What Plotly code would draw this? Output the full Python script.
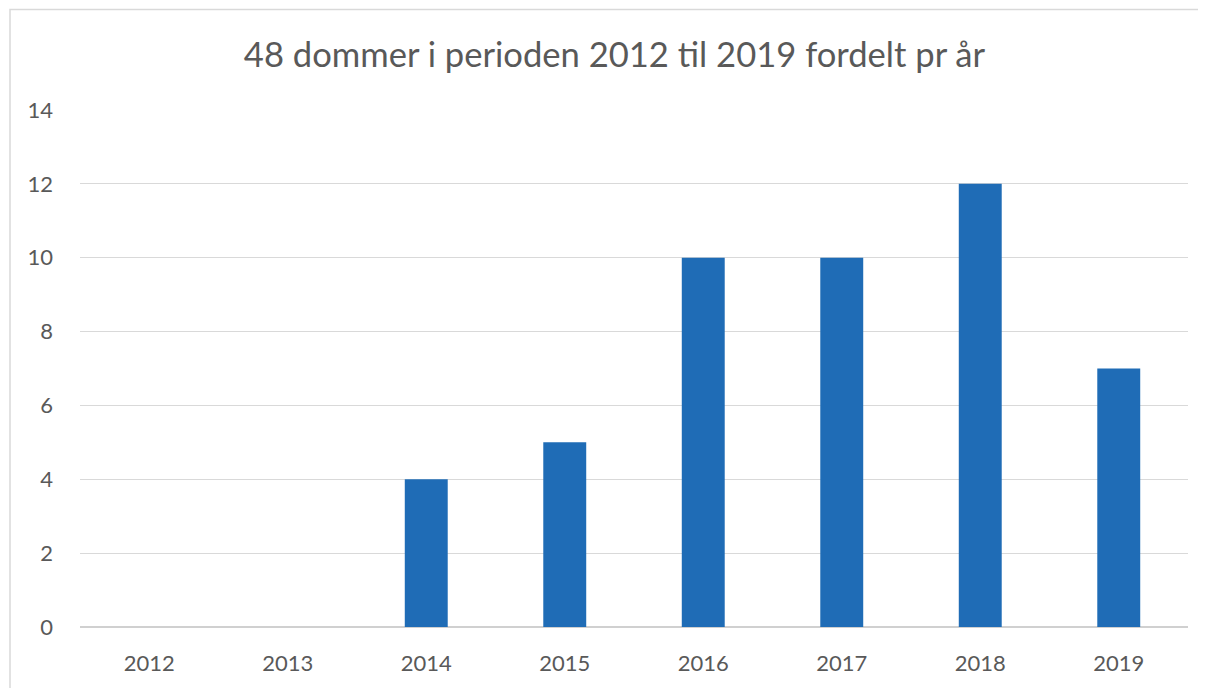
import plotly.graph_objects as go

years = ["2012", "2013", "2014", "2015", "2016", "2017", "2018", "2019"]
counts = [0, 0, 4, 5, 10, 10, 12, 7]
title_text = "48 dommer i perioden 2012 til 2019 fordelt pr år"

OFF = 8  # page body margin
W, H = 1206 - OFF, 688 - OFF
L, R, T, B = 80 - OFF, 18, 110 - OFF, 61
pw, ph = W - L - R, H - T - B

fig = go.Figure(go.Bar(x=years, y=counts, marker=dict(color="#1F6CB6", line=dict(width=0))))

fig.update_layout(
    width=W, height=H,
    margin=dict(l=L, r=R, t=T, b=B),
    paper_bgcolor="white", plot_bgcolor="white",
    font=dict(family="Lato, Noto Sans, sans-serif", color="#595959"),
    title=dict(text=title_text, x=(614.5 - OFF) / W, xanchor="center", xref="container",
               y=1 - (55 - OFF) / H, yanchor="middle", yref="container",
               font=dict(size=34.6, color="#595959")),
    bargap=0.69,
    showlegend=False,
    xaxis=dict(type="category", showgrid=False, zeroline=False, showline=False,
               ticks="", tickfont=dict(size=22, color="#595959"), ticklabelstandoff=21),
    yaxis=dict(range=[0, 14], dtick=2, showgrid=True, gridcolor="#d9d9d9", gridwidth=1,
               zeroline=True, zerolinecolor="#d0d0d0", zerolinewidth=1.5,
               showline=False, ticks="", tickfont=dict(size=22, color="#595959"),
               ticklabelstandoff=26),
    shapes=[dict(type="rect", xref="paper", yref="paper",
                 x0=(10 - OFF - L) / pw, x1=1.2, y0=(H - B - (9.5 - OFF)) / ph, y1=-0.5,
                 line=dict(color="#d9d9d9", width=1.5), fillcolor="rgba(0,0,0,0)", layer="below")],
)

fig.write_html("out.html")
